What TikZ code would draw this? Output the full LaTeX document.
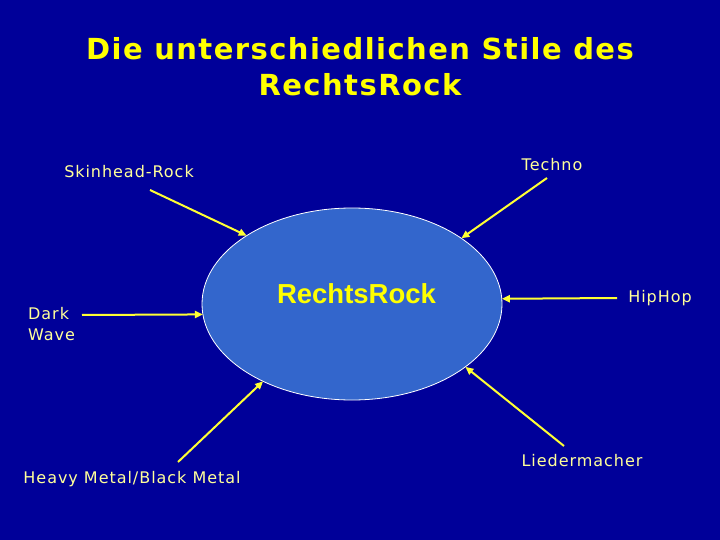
\documentclass[tikz,border=0pt]{standalone}
\usepackage{fontspec}
\setmainfont{DejaVu Sans}
\newfontfamily\labelfont[LetterSpace=6]{DejaVu Sans}
\newfontfamily\headfont[LetterSpace=5]{DejaVu Sans}
\newfontfamily\corefont{Liberation Sans}
\usetikzlibrary{
  arrows.meta,
  shapes.geometric,
  positioning
}
\definecolor{rrBg}{HTML}{000099}
\definecolor{rrCore}{HTML}{3366CC}
\definecolor{rrTitle}{HTML}{FFFF00}
\definecolor{rrLabel}{HTML}{FFFF99}
\definecolor{rrArrow}{HTML}{FFFF33}
\tikzset{
  core/.style={
    ellipse, draw=white, line width=0.8pt, fill=rrCore,
    minimum width=300pt, minimum height=192pt, inner sep=0pt, outer sep=0pt
  },
  corelabel/.style={font=\corefont\bfseries\fontsize{27.5}{32}\selectfont, text=rrTitle, inner sep=0pt},
  headline/.style={font=\headfont\bfseries\fontsize{29}{35.5}\selectfont, text=rrTitle, align=center, inner sep=0pt},
  genre/.style={font=\labelfont\fontsize{16}{21}\selectfont, text=rrLabel, inner sep=0pt, align=left},
  feed/.style={-{Triangle[length=8pt,width=7pt]}, line width=2pt, rrArrow}
}

\begin{document}
\begin{tikzpicture}[x=1pt, y=-1pt]
  % slide background
  \fill[rrBg] (0,0) rectangle (720,540);
  \useasboundingbox (0,0) rectangle (720,540);

  \node[headline, anchor=north] (head) at (360,37.5) {Die unterschiedlichen Stile des\\RechtsRock};

  % centre
  \node[core] (rr) at (352,304) {};
  \node[corelabel, anchor=base] (rrtext) at (356.5,303) {RechtsRock};

  % styles around it
  \node[genre, anchor=base] (skin) at (129,177.5) {Skinhead-Rock};
  \node[genre, anchor=base] (techno) at (552,171) {Techno};
  \node[genre, anchor=north west] (dark) at (28,307) {Dark\\Wave};
  \node[genre, anchor=base] (hiphop) at (660,302) {HipHop};
  \node[genre, anchor=base] (heavy) at (132,483) {Heavy Metal/Black Metal};
  \node[genre, anchor=base] (lieder) at (582,466) {Liedermacher};

  % arrow tails
  \coordinate (skinT) at (150,190);
  \coordinate (technoT) at (547,178);
  \coordinate (darkT) at (82,315);
  \coordinate (hiphopT) at (617,298);
  \coordinate (heavyT) at (178,462);
  \coordinate (liederT) at (564,446);

  \draw[feed] (skinT) -- (rr.147.5);
  \draw[feed] (technoT) -- (rr.31.7);
  \draw[feed] (darkT) -- (rr.184.2);
  \draw[feed] (hiphopT) -- (rr.2.3);
  \draw[feed] (heavyT) -- (rr.221.6);
  \draw[feed] (liederT) -- (rr.331.3);
\end{tikzpicture}
\end{document}
